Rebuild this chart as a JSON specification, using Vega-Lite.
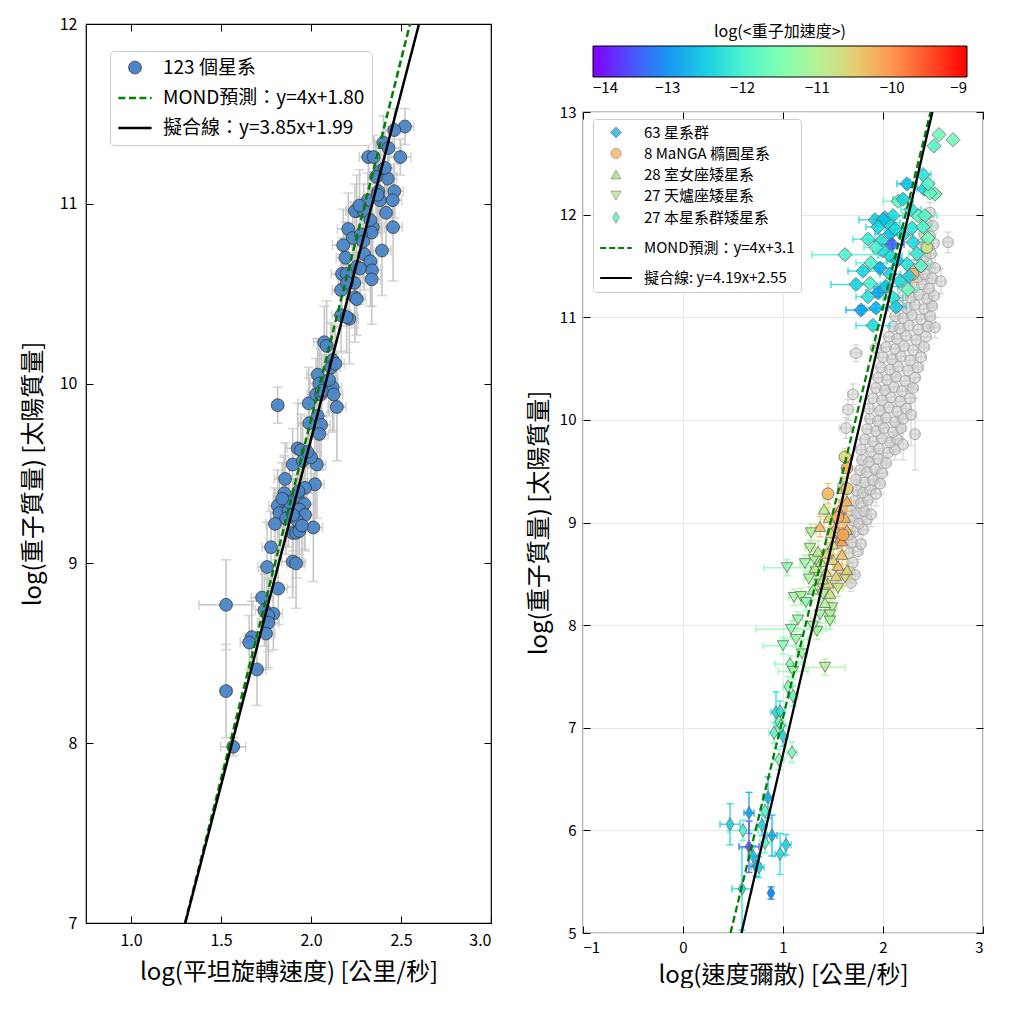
{
  "$schema": "https://vega.github.io/schema/vega-lite/v6.json",
  "background": "white",
  "padding": {"left": 20, "top": 15, "right": 0, "bottom": 0},
  "spacing": 33,
  "resolve": {
    "scale": {"shape": "independent", "color": "independent", "size": "independent", "fill": "independent", "stroke": "independent", "strokeDash": "independent", "strokeWidth": "independent"},
    "legend": {"shape": "independent", "color": "independent", "size": "independent", "fill": "independent", "stroke": "independent", "strokeDash": "independent", "strokeWidth": "independent"}
  },
  "config": {
    "font": "Noto Sans CJK TC",
    "view": {"stroke": "black", "strokeWidth": 1.2},
    "axis": {"domain": false, "grid": false, "tickSize": -7, "tickColor": "black", "tickWidth": 1, "labelColor": "black", "titleColor": "black", "titleFontWeight": "normal", "titleFontSize": 24, "labelFontSize": 16, "labelPadding": 16},
    "legend": {"labelColor": "black", "titleColor": "black"}
  },
  "datasets": {
    "L": [
      {"x":2.522,"y":11.43,"ex":0.05,"ey":0.1},{"x":2.463,"y":11.41,"ex":0.06,"ey":0.12},{"x":2.402,"y":11.34,"ex":0.05,"ey":0.15},{"x":2.43,"y":11.31,"ex":0.07,"ey":0.12},{"x":2.496,"y":11.26,"ex":0.06,"ey":0.1},
      {"x":2.318,"y":11.26,"ex":0.05,"ey":0.15},{"x":2.348,"y":11.26,"ex":0.04,"ey":0.12},{"x":2.383,"y":11.18,"ex":0.06,"ey":0.15},{"x":2.426,"y":11.14,"ex":0.05,"ey":0.12},{"x":2.361,"y":11.15,"ex":0.04,"ey":0.2},
      {"x":2.463,"y":11.07,"ex":0.05,"ey":0.15},{"x":2.374,"y":11.07,"ex":0.05,"ey":0.2},{"x":2.383,"y":11.02,"ex":0.06,"ey":0.18},{"x":2.454,"y":11.02,"ex":0.05,"ey":0.15},{"x":2.315,"y":11.02,"ex":0.05,"ey":0.15},
      {"x":2.254,"y":10.96,"ex":0.06,"ey":0.2},{"x":2.244,"y":10.96,"ex":0.05,"ey":0.15},{"x":2.417,"y":10.95,"ex":0.05,"ey":0.2},{"x":2.293,"y":10.96,"ex":0.04,"ey":0.15},{"x":2.207,"y":10.86,"ex":0.06,"ey":0.2},
      {"x":2.343,"y":10.87,"ex":0.05,"ey":0.2},{"x":2.337,"y":10.84,"ex":0.05,"ey":0.25},{"x":2.456,"y":10.87,"ex":0.05,"ey":0.3},{"x":2.232,"y":10.81,"ex":0.05,"ey":0.2},{"x":2.278,"y":10.83,"ex":0.05,"ey":0.15},
      {"x":2.179,"y":10.77,"ex":0.06,"ey":0.2},{"x":2.394,"y":10.74,"ex":0.05,"ey":0.25},{"x":2.191,"y":10.7,"ex":0.05,"ey":0.2},{"x":2.296,"y":10.72,"ex":0.05,"ey":0.2},{"x":2.33,"y":10.68,"ex":0.04,"ey":0.25},
      {"x":2.339,"y":10.63,"ex":0.05,"ey":0.2},{"x":2.337,"y":10.58,"ex":0.05,"ey":0.25},{"x":2.254,"y":10.65,"ex":0.05,"ey":0.2},{"x":2.272,"y":10.64,"ex":0.05,"ey":0.2},{"x":2.172,"y":10.61,"ex":0.06,"ey":0.2},
      {"x":2.198,"y":10.61,"ex":0.05,"ey":0.2},{"x":2.241,"y":10.56,"ex":0.05,"ey":0.25},{"x":2.167,"y":10.52,"ex":0.05,"ey":0.2},{"x":2.244,"y":10.48,"ex":0.05,"ey":0.25},{"x":2.254,"y":10.47,"ex":0.05,"ey":0.2},
      {"x":2.167,"y":10.38,"ex":0.05,"ey":0.2},{"x":2.213,"y":10.36,"ex":0.05,"ey":0.25},{"x":2.198,"y":10.37,"ex":0.06,"ey":0.2},{"x":2.074,"y":10.23,"ex":0.06,"ey":0.2},{"x":2.087,"y":10.21,"ex":0.05,"ey":0.25},
      {"x":2.12,"y":10.13,"ex":0.05,"ey":0.2},{"x":2.111,"y":10.09,"ex":0.05,"ey":0.25},{"x":2.135,"y":10.11,"ex":0.05,"ey":0.2},{"x":2.037,"y":10.05,"ex":0.06,"ey":0.2},{"x":2.046,"y":10.0,"ex":0.05,"ey":0.25},
      {"x":2.12,"y":9.98,"ex":0.05,"ey":0.25},{"x":2.126,"y":9.94,"ex":0.05,"ey":0.2},{"x":1.987,"y":9.89,"ex":0.06,"ey":0.2},{"x":2.028,"y":9.94,"ex":0.05,"ey":0.2},{"x":2.056,"y":9.94,"ex":0.05,"ey":0.25},
      {"x":2.144,"y":9.87,"ex":0.05,"ey":0.3},{"x":1.815,"y":9.88,"ex":0.03,"ey":0.1},{"x":1.99,"y":9.78,"ex":0.06,"ey":0.25},{"x":2.037,"y":9.82,"ex":0.05,"ey":0.2},{"x":2.056,"y":9.77,"ex":0.05,"ey":0.25},
      {"x":2.046,"y":9.72,"ex":0.05,"ey":0.2},{"x":1.926,"y":9.64,"ex":0.06,"ey":0.25},{"x":1.944,"y":9.63,"ex":0.05,"ey":0.2},{"x":1.898,"y":9.55,"ex":0.05,"ey":0.2},{"x":2.033,"y":9.55,"ex":0.05,"ey":0.3},
      {"x":1.954,"y":9.57,"ex":0.05,"ey":0.2},{"x":1.856,"y":9.47,"ex":0.06,"ey":0.2},{"x":2.022,"y":9.44,"ex":0.05,"ey":0.25},{"x":1.967,"y":9.42,"ex":0.05,"ey":0.2},{"x":1.852,"y":9.39,"ex":0.06,"ey":0.2},
      {"x":1.852,"y":9.35,"ex":0.05,"ey":0.25},{"x":1.926,"y":9.37,"ex":0.05,"ey":0.2},{"x":1.815,"y":9.32,"ex":0.05,"ey":0.2},{"x":1.963,"y":9.33,"ex":0.06,"ey":0.25},{"x":1.824,"y":9.28,"ex":0.05,"ey":0.2},
      {"x":1.874,"y":9.29,"ex":0.05,"ey":0.2},{"x":1.935,"y":9.3,"ex":0.05,"ey":0.25},{"x":1.967,"y":9.27,"ex":0.05,"ey":0.2},{"x":1.861,"y":9.25,"ex":0.06,"ey":0.2},{"x":1.922,"y":9.24,"ex":0.05,"ey":0.25},
      {"x":1.898,"y":9.17,"ex":0.05,"ey":0.3},{"x":1.917,"y":9.17,"ex":0.05,"ey":0.25},{"x":1.935,"y":9.18,"ex":0.06,"ey":0.2},{"x":2.013,"y":9.2,"ex":0.05,"ey":0.3},{"x":1.778,"y":9.09,"ex":0.05,"ey":0.2},
      {"x":1.756,"y":8.98,"ex":0.05,"ey":0.25},{"x":1.898,"y":9.01,"ex":0.06,"ey":0.2},{"x":1.917,"y":9.0,"ex":0.05,"ey":0.25},{"x":1.818,"y":8.86,"ex":0.05,"ey":0.2},{"x":1.728,"y":8.81,"ex":0.06,"ey":0.15},
      {"x":1.528,"y":8.77,"ex":0.15,"ey":0.25},{"x":1.741,"y":8.74,"ex":0.05,"ey":0.2},{"x":1.791,"y":8.72,"ex":0.05,"ey":0.2},{"x":1.763,"y":8.71,"ex":0.05,"ey":0.2},{"x":1.763,"y":8.67,"ex":0.06,"ey":0.25},
      {"x":1.75,"y":8.61,"ex":0.05,"ey":0.2},{"x":1.671,"y":8.59,"ex":0.04,"ey":0.2},{"x":1.657,"y":8.56,"ex":0.05,"ey":0.15},{"x":1.7,"y":8.41,"ex":0.05,"ey":0.2},{"x":1.528,"y":8.29,"ex":0.03,"ey":0.26},
      {"x":1.568,"y":7.98,"ex":0.07,"ey":0.05},{"x":1.88,"y":9.34,"ex":0.05,"ey":0.2},{"x":1.9,"y":9.27,"ex":0.05,"ey":0.2},{"x":1.84,"y":9.36,"ex":0.05,"ey":0.2},{"x":1.95,"y":9.21,"ex":0.05,"ey":0.2},
      {"x":2.0,"y":9.59,"ex":0.05,"ey":0.2},{"x":1.98,"y":9.62,"ex":0.05,"ey":0.2},{"x":2.1,"y":10.02,"ex":0.05,"ey":0.2},{"x":2.06,"y":9.96,"ex":0.05,"ey":0.2},{"x":2.2,"y":10.56,"ex":0.05,"ey":0.2},
      {"x":2.33,"y":10.91,"ex":0.05,"ey":0.2},{"x":2.37,"y":11.05,"ex":0.05,"ey":0.2},{"x":2.29,"y":10.79,"ex":0.05,"ey":0.2},{"x":2.41,"y":11.2,"ex":0.05,"ey":0.2},{"x":1.93,"y":9.4,"ex":0.05,"ey":0.2},
      {"x":1.8,"y":9.22,"ex":0.05,"ey":0.2},{"x":2.27,"y":10.99,"ex":0.05,"ey":0.2}
    ],
    "RG": [
      {"x":1.68,"y":8.41,"ex":0.03,"ey":0.08},{"x":1.66,"y":8.52,"ex":0.04,"ey":0.1},{"x":1.72,"y":8.49,"ex":0.03,"ey":0.08},{"x":1.7,"y":8.61,"ex":0.04,"ey":0.1},{"x":1.66,"y":8.7,"ex":0.03,"ey":0.1},
      {"x":1.75,"y":8.72,"ex":0.04,"ey":0.08},{"x":1.69,"y":8.81,"ex":0.03,"ey":0.1},{"x":1.78,"y":8.79,"ex":0.04,"ey":0.1},{"x":1.72,"y":8.91,"ex":0.03,"ey":0.1},{"x":1.66,"y":8.88,"ex":0.05,"ey":0.12},
      {"x":1.8,"y":8.93,"ex":0.04,"ey":0.1},{"x":1.7,"y":9.02,"ex":0.04,"ey":0.1},{"x":1.76,"y":8.99,"ex":0.03,"ey":0.08},{"x":1.84,"y":9.03,"ex":0.04,"ey":0.1},{"x":1.68,"y":9.12,"ex":0.04,"ey":0.1},
      {"x":1.74,"y":9.09,"ex":0.03,"ey":0.1},{"x":1.81,"y":9.11,"ex":0.04,"ey":0.1},{"x":1.88,"y":9.08,"ex":0.05,"ey":0.12},{"x":1.71,"y":9.21,"ex":0.04,"ey":0.1},{"x":1.78,"y":9.19,"ex":0.03,"ey":0.08},
      {"x":1.85,"y":9.22,"ex":0.04,"ey":0.1},{"x":1.74,"y":9.31,"ex":0.04,"ey":0.1},{"x":1.8,"y":9.29,"ex":0.03,"ey":0.1},{"x":1.87,"y":9.32,"ex":0.04,"ey":0.1},{"x":1.93,"y":9.28,"ex":0.05,"ey":0.12},
      {"x":1.73,"y":9.42,"ex":0.03,"ey":0.1},{"x":1.82,"y":9.39,"ex":0.04,"ey":0.1},{"x":1.9,"y":9.41,"ex":0.04,"ey":0.08},{"x":1.97,"y":9.38,"ex":0.05,"ey":0.1},{"x":1.77,"y":9.51,"ex":0.04,"ey":0.1},
      {"x":1.84,"y":9.49,"ex":0.03,"ey":0.1},{"x":1.92,"y":9.52,"ex":0.04,"ey":0.1},{"x":1.99,"y":9.48,"ex":0.05,"ey":0.12},{"x":1.79,"y":9.61,"ex":0.04,"ey":0.1},{"x":1.86,"y":9.59,"ex":0.03,"ey":0.1},
      {"x":1.95,"y":9.62,"ex":0.04,"ey":0.08},{"x":2.03,"y":9.58,"ex":0.05,"ey":0.1},{"x":1.78,"y":9.71,"ex":0.04,"ey":0.1},{"x":1.88,"y":9.69,"ex":0.03,"ey":0.1},{"x":1.96,"y":9.72,"ex":0.04,"ey":0.1},
      {"x":2.05,"y":9.68,"ex":0.05,"ey":0.12},{"x":2.12,"y":9.71,"ex":0.05,"ey":0.1},{"x":1.82,"y":9.81,"ex":0.04,"ey":0.1},{"x":1.9,"y":9.79,"ex":0.03,"ey":0.1},{"x":1.99,"y":9.82,"ex":0.04,"ey":0.1},
      {"x":2.07,"y":9.78,"ex":0.04,"ey":0.1},{"x":2.14,"y":9.81,"ex":0.05,"ey":0.12},{"x":1.84,"y":9.91,"ex":0.04,"ey":0.1},{"x":1.93,"y":9.89,"ex":0.03,"ey":0.1},{"x":2.01,"y":9.92,"ex":0.04,"ey":0.08},
      {"x":2.1,"y":9.88,"ex":0.04,"ey":0.1},{"x":2.18,"y":9.92,"ex":0.05,"ey":0.1},{"x":1.87,"y":10.01,"ex":0.04,"ey":0.1},{"x":1.95,"y":9.99,"ex":0.03,"ey":0.1},{"x":2.03,"y":10.02,"ex":0.04,"ey":0.1},
      {"x":2.12,"y":9.98,"ex":0.04,"ey":0.1},{"x":2.2,"y":10.01,"ex":0.05,"ey":0.12},{"x":1.86,"y":10.11,"ex":0.04,"ey":0.1},{"x":1.97,"y":10.09,"ex":0.03,"ey":0.1},{"x":2.06,"y":10.12,"ex":0.04,"ey":0.1},
      {"x":2.14,"y":10.08,"ex":0.04,"ey":0.1},{"x":2.23,"y":10.11,"ex":0.05,"ey":0.1},{"x":1.9,"y":10.21,"ex":0.04,"ey":0.1},{"x":1.99,"y":10.19,"ex":0.03,"ey":0.1},{"x":2.08,"y":10.22,"ex":0.04,"ey":0.08},
      {"x":2.17,"y":10.18,"ex":0.04,"ey":0.1},{"x":2.27,"y":10.21,"ex":0.05,"ey":0.12},{"x":1.93,"y":10.31,"ex":0.04,"ey":0.1},{"x":2.02,"y":10.29,"ex":0.03,"ey":0.1},{"x":2.11,"y":10.32,"ex":0.04,"ey":0.1},
      {"x":2.19,"y":10.28,"ex":0.04,"ey":0.1},{"x":2.3,"y":10.31,"ex":0.05,"ey":0.1},{"x":1.95,"y":10.41,"ex":0.04,"ey":0.1},{"x":2.04,"y":10.39,"ex":0.03,"ey":0.1},{"x":2.13,"y":10.42,"ex":0.04,"ey":0.1},
      {"x":2.22,"y":10.38,"ex":0.04,"ey":0.1},{"x":2.32,"y":10.41,"ex":0.05,"ey":0.12},{"x":1.98,"y":10.51,"ex":0.04,"ey":0.1},{"x":2.07,"y":10.49,"ex":0.03,"ey":0.1},{"x":2.15,"y":10.52,"ex":0.04,"ey":0.08},
      {"x":2.25,"y":10.48,"ex":0.04,"ey":0.1},{"x":2.35,"y":10.51,"ex":0.05,"ey":0.1},{"x":2.0,"y":10.61,"ex":0.04,"ey":0.1},{"x":2.09,"y":10.59,"ex":0.03,"ey":0.1},{"x":2.18,"y":10.62,"ex":0.04,"ey":0.1},
      {"x":2.27,"y":10.58,"ex":0.04,"ey":0.1},{"x":2.38,"y":10.61,"ex":0.05,"ey":0.12},{"x":2.03,"y":10.71,"ex":0.04,"ey":0.1},{"x":2.12,"y":10.69,"ex":0.03,"ey":0.1},{"x":2.21,"y":10.72,"ex":0.04,"ey":0.1},
      {"x":2.3,"y":10.68,"ex":0.04,"ey":0.1},{"x":2.41,"y":10.71,"ex":0.05,"ey":0.1},{"x":2.06,"y":10.81,"ex":0.04,"ey":0.1},{"x":2.14,"y":10.79,"ex":0.03,"ey":0.1},{"x":2.23,"y":10.82,"ex":0.04,"ey":0.08},
      {"x":2.33,"y":10.78,"ex":0.04,"ey":0.1},{"x":2.43,"y":10.81,"ex":0.05,"ey":0.12},{"x":2.1,"y":10.91,"ex":0.04,"ey":0.1},{"x":2.17,"y":10.89,"ex":0.03,"ey":0.1},{"x":2.26,"y":10.92,"ex":0.04,"ey":0.1},
      {"x":2.35,"y":10.88,"ex":0.04,"ey":0.1},{"x":2.45,"y":10.91,"ex":0.05,"ey":0.1},{"x":2.12,"y":11.01,"ex":0.04,"ey":0.1},{"x":2.2,"y":10.99,"ex":0.03,"ey":0.1},{"x":2.29,"y":11.02,"ex":0.04,"ey":0.1},
      {"x":2.38,"y":10.98,"ex":0.04,"ey":0.1},{"x":2.47,"y":11.01,"ex":0.05,"ey":0.12},{"x":2.16,"y":11.11,"ex":0.04,"ey":0.1},{"x":2.24,"y":11.09,"ex":0.03,"ey":0.1},{"x":2.32,"y":11.12,"ex":0.04,"ey":0.08},
      {"x":2.41,"y":11.08,"ex":0.04,"ey":0.1},{"x":2.49,"y":11.11,"ex":0.05,"ey":0.1},{"x":2.2,"y":11.21,"ex":0.04,"ey":0.1},{"x":2.28,"y":11.19,"ex":0.03,"ey":0.1},{"x":2.36,"y":11.22,"ex":0.04,"ey":0.1},
      {"x":2.44,"y":11.18,"ex":0.04,"ey":0.1},{"x":2.51,"y":11.21,"ex":0.05,"ey":0.12},{"x":2.24,"y":11.31,"ex":0.04,"ey":0.1},{"x":2.31,"y":11.29,"ex":0.03,"ey":0.1},{"x":2.39,"y":11.32,"ex":0.04,"ey":0.1},
      {"x":2.46,"y":11.28,"ex":0.04,"ey":0.1},{"x":2.28,"y":11.41,"ex":0.04,"ey":0.1},{"x":2.35,"y":11.39,"ex":0.03,"ey":0.1},{"x":2.42,"y":11.42,"ex":0.04,"ey":0.1},{"x":2.49,"y":11.38,"ex":0.05,"ey":0.1},
      {"x":2.31,"y":11.51,"ex":0.04,"ey":0.1},{"x":2.38,"y":11.49,"ex":0.03,"ey":0.1},{"x":2.45,"y":11.52,"ex":0.04,"ey":0.1},{"x":2.52,"y":11.48,"ex":0.05,"ey":0.12},{"x":2.35,"y":11.61,"ex":0.04,"ey":0.1},
      {"x":2.42,"y":11.59,"ex":0.03,"ey":0.1},{"x":2.48,"y":11.62,"ex":0.04,"ey":0.1},{"x":2.38,"y":11.71,"ex":0.04,"ey":0.1},{"x":2.45,"y":11.69,"ex":0.03,"ey":0.1},{"x":2.51,"y":11.72,"ex":0.04,"ey":0.1},
      {"x":2.41,"y":11.81,"ex":0.04,"ey":0.1},{"x":2.47,"y":11.79,"ex":0.03,"ey":0.1},{"x":2.44,"y":11.91,"ex":0.04,"ey":0.1},{"x":2.5,"y":11.89,"ex":0.03,"ey":0.1},{"x":2.47,"y":12.02,"ex":0.04,"ey":0.1},
      {"x":1.73,"y":10.65,"ex":0.06,"ey":0.08},{"x":1.7,"y":10.25,"ex":0.05,"ey":0.1},{"x":1.63,"y":9.92,"ex":0.07,"ey":0.1},{"x":2.2,"y":9.76,"ex":0.04,"ey":0.15},{"x":2.32,"y":9.86,"ex":0.04,"ey":0.35},
      {"x":2.52,"y":10.9,"ex":0.04,"ey":0.1},{"x":2.65,"y":11.73,"ex":0.04,"ey":0.1},{"x":1.6,"y":9.35,"ex":0.05,"ey":0.1},{"x":1.65,"y":10.1,"ex":0.05,"ey":0.1},{"x":1.58,"y":9.1,"ex":0.04,"ey":0.1},
      {"x":1.93,"y":10.7,"ex":0.06,"ey":0.1},{"x":2.58,"y":11.35,"ex":0.04,"ey":0.12},{"x":2.28,"y":10.05,"ex":0.05,"ey":0.3}
    ],
    "RC": [
      {"cat":"63 星系群","x":2.56,"y":12.78,"ex":0.02,"ey":0.03,"acc":-11.6},{"cat":"63 星系群","x":2.7,"y":12.73,"ex":0.02,"ey":0.03,"acc":-11.6},{"cat":"63 星系群","x":2.51,"y":12.67,"ex":0.02,"ey":0.03,"acc":-11.9},
      {"cat":"63 星系群","x":2.4,"y":12.39,"ex":0.08,"ey":0.04,"acc":-12.2},{"cat":"63 星系群","x":2.24,"y":12.3,"ex":0.1,"ey":0.04,"acc":-12.6},{"cat":"63 星系群","x":2.41,"y":12.25,"ex":0.07,"ey":0.04,"acc":-12.4},
      {"cat":"63 星系群","x":2.52,"y":12.2,"ex":0.05,"ey":0.04,"acc":-11.7},{"cat":"63 星系群","x":2.47,"y":12.21,"ex":0.05,"ey":0.04,"acc":-11.8},{"cat":"63 星系群","x":2.15,"y":12.13,"ex":0.15,"ey":0.04,"acc":-11.8},
      {"cat":"63 星系群","x":1.92,"y":11.95,"ex":0.16,"ey":0.04,"acc":-12.5},{"cat":"63 星系群","x":2.02,"y":11.97,"ex":0.1,"ey":0.04,"acc":-12.5},{"cat":"63 星系群","x":2.1,"y":11.99,"ex":0.1,"ey":0.04,"acc":-12.3},
      {"cat":"63 星系群","x":2.05,"y":11.92,"ex":0.12,"ey":0.04,"acc":-12.4},{"cat":"63 星系群","x":2.35,"y":11.99,"ex":0.1,"ey":0.04,"acc":-11.9},{"cat":"63 星系群","x":2.42,"y":11.99,"ex":0.12,"ey":0.04,"acc":-11.9},
      {"cat":"63 星系群","x":2.29,"y":11.87,"ex":0.1,"ey":0.04,"acc":-12.2},{"cat":"63 星系群","x":2.07,"y":11.81,"ex":0.15,"ey":0.04,"acc":-12.6},{"cat":"63 星系群","x":1.85,"y":11.76,"ex":0.15,"ey":0.04,"acc":-12.1},
      {"cat":"63 星系群","x":1.98,"y":11.74,"ex":0.12,"ey":0.04,"acc":-12.2},{"cat":"63 星系群","x":2.09,"y":11.71,"ex":0.12,"ey":0.04,"acc":-13.4},{"cat":"63 星系群","x":2.3,"y":11.73,"ex":0.1,"ey":0.04,"acc":-12.3},
      {"cat":"63 星系群","x":2.45,"y":11.77,"ex":0.05,"ey":0.04,"acc":-11.6},{"cat":"63 星系群","x":1.62,"y":11.61,"ex":0.33,"ey":0.04,"acc":-12.0},{"cat":"63 星系群","x":1.88,"y":11.53,"ex":0.15,"ey":0.04,"acc":-12.0},
      {"cat":"63 星系群","x":2.07,"y":11.6,"ex":0.12,"ey":0.04,"acc":-12.3},{"cat":"63 星系群","x":2.24,"y":11.52,"ex":0.1,"ey":0.04,"acc":-12.2},{"cat":"63 星系群","x":1.97,"y":11.48,"ex":0.12,"ey":0.04,"acc":-12.8},
      {"cat":"63 星系群","x":2.17,"y":11.35,"ex":0.1,"ey":0.04,"acc":-12.3},{"cat":"63 星系群","x":2.07,"y":11.42,"ex":0.1,"ey":0.04,"acc":-12.5},{"cat":"63 星系群","x":1.73,"y":11.32,"ex":0.25,"ey":0.04,"acc":-12.4},
      {"cat":"63 星系群","x":1.87,"y":11.33,"ex":0.15,"ey":0.04,"acc":-12.0},{"cat":"63 星系群","x":2.03,"y":11.3,"ex":0.12,"ey":0.04,"acc":-12.6},{"cat":"63 星系群","x":1.95,"y":11.24,"ex":0.12,"ey":0.04,"acc":-12.9},
      {"cat":"63 星系群","x":2.25,"y":11.27,"ex":0.1,"ey":0.04,"acc":-11.7},{"cat":"63 星系群","x":2.1,"y":11.19,"ex":0.1,"ey":0.04,"acc":-12.2},{"cat":"63 星系群","x":1.78,"y":11.07,"ex":0.15,"ey":0.04,"acc":-12.9},
      {"cat":"63 星系群","x":1.93,"y":11.09,"ex":0.12,"ey":0.04,"acc":-12.7},{"cat":"63 星系群","x":1.9,"y":10.92,"ex":0.17,"ey":0.04,"acc":-12.3},{"cat":"63 星系群","x":2.0,"y":11.95,"ex":0.1,"ey":0.04,"acc":-12.6},
      {"cat":"63 星系群","x":1.95,"y":11.88,"ex":0.12,"ey":0.04,"acc":-12.4},{"cat":"63 星系群","x":2.12,"y":11.86,"ex":0.1,"ey":0.04,"acc":-12.4},{"cat":"63 星系群","x":2.2,"y":11.8,"ex":0.1,"ey":0.04,"acc":-12.3},
      {"cat":"63 星系群","x":2.34,"y":11.62,"ex":0.08,"ey":0.04,"acc":-12.1},{"cat":"63 星系群","x":2.14,"y":11.55,"ex":0.1,"ey":0.04,"acc":-12.6},{"cat":"63 星系群","x":2.0,"y":11.65,"ex":0.1,"ey":0.04,"acc":-12.3},
      {"cat":"63 星系群","x":1.8,"y":11.45,"ex":0.15,"ey":0.04,"acc":-12.4},{"cat":"63 星系群","x":2.38,"y":11.5,"ex":0.08,"ey":0.04,"acc":-11.8},{"cat":"63 星系群","x":2.4,"y":11.88,"ex":0.08,"ey":0.04,"acc":-12.0},
      {"cat":"63 星系群","x":2.28,"y":12.05,"ex":0.1,"ey":0.04,"acc":-12.2},{"cat":"63 星系群","x":2.45,"y":12.3,"ex":0.06,"ey":0.04,"acc":-11.9},{"cat":"63 星系群","x":2.2,"y":12.15,"ex":0.1,"ey":0.04,"acc":-12.4},
      {"cat":"63 星系群","x":1.93,"y":11.68,"ex":0.12,"ey":0.04,"acc":-12.0},{"cat":"63 星系群","x":2.26,"y":11.4,"ex":0.08,"ey":0.04,"acc":-12.5},{"cat":"63 星系群","x":2.13,"y":11.1,"ex":0.1,"ey":0.04,"acc":-12.5},
      {"cat":"63 星系群","x":1.85,"y":11.2,"ex":0.12,"ey":0.04,"acc":-12.2},
      {"cat":"8 MaNGA 橢圓星系","x":2.44,"y":11.68,"ex":0.03,"ey":0.06,"acc":-10.8},{"cat":"8 MaNGA 橢圓星系","x":2.3,"y":11.42,"ex":0.03,"ey":0.08,"acc":-10.3},{"cat":"8 MaNGA 橢圓星系","x":1.62,"y":9.64,"ex":0.03,"ey":0.08,"acc":-10.6},
      {"cat":"8 MaNGA 橢圓星系","x":1.45,"y":9.28,"ex":0.03,"ey":0.1,"acc":-10.3},{"cat":"8 MaNGA 橢圓星系","x":1.64,"y":9.33,"ex":0.03,"ey":0.1,"acc":-10.5},{"cat":"8 MaNGA 橢圓星系","x":1.64,"y":9.53,"ex":0.03,"ey":0.1,"acc":-10.2},
      {"cat":"8 MaNGA 橢圓星系","x":1.55,"y":9.05,"ex":0.03,"ey":0.1,"acc":-10.2},{"cat":"8 MaNGA 橢圓星系","x":1.6,"y":8.88,"ex":0.03,"ey":0.1,"acc":-10.1},
      {"cat":"28 室女座矮星系","x":1.41,"y":9.13,"ex":0.04,"ey":0.1,"acc":-10.9},{"cat":"28 室女座矮星系","x":1.64,"y":9.21,"ex":0.04,"ey":0.1,"acc":-10.2},{"cat":"28 室女座矮星系","x":1.37,"y":8.96,"ex":0.04,"ey":0.1,"acc":-10.3},
      {"cat":"28 室女座矮星系","x":1.46,"y":9.05,"ex":0.04,"ey":0.1,"acc":-10.6},{"cat":"28 室女座矮星系","x":1.62,"y":9.05,"ex":0.04,"ey":0.1,"acc":-10.2},{"cat":"28 室女座矮星系","x":1.64,"y":8.93,"ex":0.04,"ey":0.1,"acc":-10.3},
      {"cat":"28 室女座矮星系","x":1.57,"y":8.85,"ex":0.04,"ey":0.1,"acc":-10.0},{"cat":"28 室女座矮星系","x":1.59,"y":8.82,"ex":0.04,"ey":0.1,"acc":-10.1},{"cat":"28 室女座矮星系","x":1.5,"y":8.79,"ex":0.04,"ey":0.1,"acc":-10.7},
      {"cat":"28 室女座矮星系","x":1.59,"y":8.69,"ex":0.04,"ey":0.1,"acc":-10.4},{"cat":"28 室女座矮星系","x":1.35,"y":8.72,"ex":0.04,"ey":0.1,"acc":-10.9},{"cat":"28 室女座矮星系","x":1.5,"y":8.64,"ex":0.04,"ey":0.1,"acc":-10.5},
      {"cat":"28 室女座矮星系","x":1.64,"y":8.54,"ex":0.04,"ey":0.1,"acc":-10.5},{"cat":"28 室女座矮星系","x":1.43,"y":8.52,"ex":0.04,"ey":0.1,"acc":-10.6},{"cat":"28 室女座矮星系","x":1.32,"y":8.56,"ex":0.04,"ey":0.1,"acc":-11.0},
      {"cat":"28 室女座矮星系","x":1.45,"y":8.41,"ex":0.04,"ey":0.1,"acc":-10.6},{"cat":"28 室女座矮星系","x":1.47,"y":8.31,"ex":0.04,"ey":0.1,"acc":-10.8},{"cat":"28 室女座矮星系","x":1.4,"y":8.45,"ex":0.04,"ey":0.1,"acc":-10.9},
      {"cat":"28 室女座矮星系","x":1.52,"y":8.95,"ex":0.04,"ey":0.1,"acc":-10.4},{"cat":"28 室女座矮星系","x":1.56,"y":9.12,"ex":0.04,"ey":0.1,"acc":-10.1},{"cat":"28 室女座矮星系","x":1.44,"y":8.7,"ex":0.04,"ey":0.1,"acc":-10.5},
      {"cat":"28 室女座矮星系","x":1.38,"y":8.62,"ex":0.04,"ey":0.1,"acc":-10.8},{"cat":"28 室女座矮星系","x":1.55,"y":8.58,"ex":0.04,"ey":0.1,"acc":-10.3},{"cat":"28 室女座矮星系","x":1.48,"y":8.9,"ex":0.04,"ey":0.1,"acc":-10.6},
      {"cat":"28 室女座矮星系","x":1.6,"y":9.33,"ex":0.04,"ey":0.1,"acc":-10.4},{"cat":"28 室女座矮星系","x":1.3,"y":8.35,"ex":0.04,"ey":0.1,"acc":-11.1},{"cat":"28 室女座矮星系","x":1.42,"y":8.22,"ex":0.04,"ey":0.1,"acc":-11.0},
      {"cat":"28 室女座矮星系","x":1.53,"y":8.48,"ex":0.04,"ey":0.1,"acc":-10.5},
      {"cat":"27 天爐座矮星系","x":1.27,"y":8.75,"ex":0.05,"ey":0.08,"acc":-11.0},{"cat":"27 天爐座矮星系","x":1.31,"y":8.64,"ex":0.05,"ey":0.08,"acc":-11.1},{"cat":"27 天爐座矮星系","x":1.04,"y":8.56,"ex":0.23,"ey":0.08,"acc":-11.4},
      {"cat":"27 天爐座矮星系","x":1.33,"y":8.52,"ex":0.05,"ey":0.08,"acc":-11.0},{"cat":"27 天爐座矮星系","x":1.37,"y":8.4,"ex":0.05,"ey":0.08,"acc":-10.9},{"cat":"27 天爐座矮星系","x":1.62,"y":8.46,"ex":0.05,"ey":0.08,"acc":-10.6},
      {"cat":"27 天爐座矮星系","x":1.11,"y":8.27,"ex":0.05,"ey":0.08,"acc":-11.2},{"cat":"27 天爐座矮星系","x":1.18,"y":8.28,"ex":0.05,"ey":0.08,"acc":-11.1},{"cat":"27 天爐座矮星系","x":1.23,"y":8.22,"ex":0.05,"ey":0.08,"acc":-11.5},
      {"cat":"27 天爐座矮星系","x":1.49,"y":8.17,"ex":0.05,"ey":0.08,"acc":-11.0},{"cat":"27 天爐座矮星系","x":1.47,"y":8.1,"ex":0.05,"ey":0.08,"acc":-11.1},{"cat":"27 天爐座矮星系","x":1.47,"y":8.04,"ex":0.05,"ey":0.08,"acc":-11.2},
      {"cat":"27 天爐座矮星系","x":1.37,"y":8.1,"ex":0.05,"ey":0.08,"acc":-11.2},{"cat":"27 天爐座矮星系","x":1.08,"y":7.96,"ex":0.35,"ey":0.08,"acc":-11.4},{"cat":"27 天爐座矮星系","x":1.13,"y":7.86,"ex":0.12,"ey":0.08,"acc":-11.3},
      {"cat":"27 天爐座矮星系","x":1.34,"y":7.94,"ex":0.05,"ey":0.08,"acc":-11.2},{"cat":"27 天爐座矮星系","x":1.42,"y":7.59,"ex":0.2,"ey":0.08,"acc":-11.0},{"cat":"27 天爐座矮星系","x":1.1,"y":7.55,"ex":0.15,"ey":0.08,"acc":-11.3},
      {"cat":"27 天爐座矮星系","x":1.28,"y":8.9,"ex":0.05,"ey":0.08,"acc":-11.0},{"cat":"27 天爐座矮星系","x":1.26,"y":8.45,"ex":0.05,"ey":0.08,"acc":-11.1},{"cat":"27 天爐座矮星系","x":1.15,"y":8.05,"ex":0.05,"ey":0.08,"acc":-11.3},
      {"cat":"27 天爐座矮星系","x":1.4,"y":8.3,"ex":0.05,"ey":0.08,"acc":-11.0},{"cat":"27 天爐座矮星系","x":1.22,"y":8.6,"ex":0.05,"ey":0.08,"acc":-11.2},{"cat":"27 天爐座矮星系","x":1.0,"y":7.8,"ex":0.2,"ey":0.08,"acc":-11.5},
      {"cat":"27 天爐座矮星系","x":1.19,"y":7.72,"ex":0.05,"ey":0.08,"acc":-11.3},{"cat":"27 天爐座矮星系","x":1.3,"y":7.99,"ex":0.05,"ey":0.08,"acc":-11.2},{"cat":"27 天爐座矮星系","x":1.55,"y":8.36,"ex":0.05,"ey":0.08,"acc":-10.8},
      {"cat":"27 本星系群矮星系","x":1.07,"y":7.62,"ex":0.15,"ey":0.08,"acc":-11.5},{"cat":"27 本星系群矮星系","x":1.1,"y":7.31,"ex":0.05,"ey":0.1,"acc":-11.8},{"cat":"27 本星系群矮星系","x":0.93,"y":7.15,"ex":0.05,"ey":0.2,"acc":-12.3},
      {"cat":"27 本星系群矮星系","x":0.97,"y":7.16,"ex":0.05,"ey":0.1,"acc":-12.2},{"cat":"27 本星系群矮星系","x":0.96,"y":7.06,"ex":0.05,"ey":0.1,"acc":-11.6},{"cat":"27 本星系群矮星系","x":1.0,"y":6.92,"ex":0.05,"ey":0.1,"acc":-12.4},
      {"cat":"27 本星系群矮星系","x":1.09,"y":6.76,"ex":0.05,"ey":0.1,"acc":-11.6},{"cat":"27 本星系群矮星系","x":0.96,"y":6.69,"ex":0.05,"ey":0.1,"acc":-11.6},{"cat":"27 本星系群矮星系","x":0.85,"y":6.32,"ex":0.05,"ey":0.2,"acc":-12.8},
      {"cat":"27 本星系群矮星系","x":0.82,"y":6.19,"ex":0.05,"ey":0.1,"acc":-11.9},{"cat":"27 本星系群矮星系","x":0.66,"y":6.17,"ex":0.05,"ey":0.2,"acc":-12.9},{"cat":"27 本星系群矮星系","x":0.47,"y":6.06,"ex":0.1,"ey":0.2,"acc":-12.5},
      {"cat":"27 本星系群矮星系","x":0.6,"y":6.0,"ex":0.15,"ey":0.1,"acc":-12.0},{"cat":"27 本星系群矮星系","x":0.89,"y":5.95,"ex":0.05,"ey":0.2,"acc":-12.8},{"cat":"27 本星系群矮星系","x":0.66,"y":5.84,"ex":0.1,"ey":0.25,"acc":-13.6},
      {"cat":"27 本星系群矮星系","x":0.82,"y":5.88,"ex":0.05,"ey":0.1,"acc":-11.9},{"cat":"27 本星系群矮星系","x":1.03,"y":5.86,"ex":0.05,"ey":0.1,"acc":-12.4},{"cat":"27 本星系群矮星系","x":0.97,"y":5.77,"ex":0.05,"ey":0.2,"acc":-12.3},
      {"cat":"27 本星系群矮星系","x":0.73,"y":5.65,"ex":0.05,"ey":0.1,"acc":-12.9},{"cat":"27 本星系群矮星系","x":0.76,"y":5.64,"ex":0.05,"ey":0.1,"acc":-12.3},{"cat":"27 本星系群矮星系","x":0.59,"y":5.43,"ex":0.1,"ey":0.4,"acc":-12.4},
      {"cat":"27 本星系群矮星系","x":0.88,"y":5.39,"ex":0.02,"ey":0.06,"acc":-13.1},{"cat":"27 本星系群矮星系","x":0.7,"y":5.75,"ex":0.05,"ey":0.1,"acc":-12.6},{"cat":"27 本星系群矮星系","x":0.98,"y":7.02,"ex":0.05,"ey":0.1,"acc":-11.7},
      {"cat":"27 本星系群矮星系","x":1.05,"y":7.4,"ex":0.05,"ey":0.1,"acc":-11.5},{"cat":"27 本星系群矮星系","x":0.91,"y":6.95,"ex":0.05,"ey":0.1,"acc":-11.8},{"cat":"27 本星系群矮星系","x":0.79,"y":6.05,"ex":0.05,"ey":0.1,"acc":-12.5}
    ],
    "RKEY": [
      {"cat":"63 星系群"},{"cat":"8 MaNGA 橢圓星系"},{"cat":"28 室女座矮星系"},{"cat":"27 天爐座矮星系"},{"cat":"27 本星系群矮星系"},{"cat":"MOND預測：y=4x+3.1"},{"cat":"擬合線: y=4.19x+2.55"}
    ]
  },
  "hconcat": [
    {
      "width": 405,
      "height": 899,
      "resolve": {"axis": {"x": "independent", "y": "independent"}},
      "layer": [
        {
          "data": {"name": "L"},
          "mark": {"type": "errorbar", "color": "#c6c6c6", "thickness": 1.6, "ticks": {"size": 10, "thickness": 1.6}},
          "encoding": {
            "x": {"field": "x", "type": "quantitative", "scale": {"domain": [0.75, 3], "nice": false, "zero": false}, "axis": null},
            "xError": {"field": "ex"},
            "y": {"field": "y", "type": "quantitative", "scale": {"domain": [7, 12], "nice": false, "zero": false}, "axis": null}
          }
        },
        {
          "data": {"name": "L"},
          "mark": {"type": "errorbar", "color": "#c6c6c6", "thickness": 1.6, "ticks": {"size": 10, "thickness": 1.6}},
          "encoding": {
            "x": {"field": "x", "type": "quantitative", "axis": null},
            "y": {"field": "y", "type": "quantitative", "axis": null},
            "yError": {"field": "ey"}
          }
        },
        {
          "data": {"name": "L"},
          "mark": {"type": "point", "filled": true, "opacity": 1, "fillOpacity": 0.95},
          "encoding": {
            "x": {"field": "x", "type": "quantitative", "axis": {"orient": "bottom", "values": [1, 1.5, 2, 2.5, 3], "format": ".1f", "title": "log(平坦旋轉速度) [公里/秒]", "titlePadding": 12}},
            "y": {"field": "y", "type": "quantitative", "axis": {"orient": "left", "values": [7, 8, 9, 10, 11, 12], "format": "d", "title": "log(重子質量) [太陽質量]", "titlePadding": 14}},
            "shape": {"datum": "123 個星系", "type": "nominal", "scale": {"domain": ["123 個星系", "MOND預測：y=4x+1.80", "擬合線：y=3.85x+1.99"], "range": ["circle", "stroke", "stroke"]},
              "legend": {"orient": "none", "legendX": 24, "legendY": 27, "title": null, "fillColor": "white", "strokeColor": "#cccccc", "cornerRadius": 4, "padding": 7, "labelFontSize": 19, "labelLimit": 500, "symbolOffset": 0, "labelOffset": 10, "rowPadding": 2, "symbolOpacity": 1}},
            "fill": {"datum": "123 個星系", "type": "nominal", "scale": {"domain": ["123 個星系", "MOND預測：y=4x+1.80", "擬合線：y=3.85x+1.99"], "range": ["#4a86c8", "transparent", "transparent"]},
              "legend": {"orient": "none", "legendX": 24, "legendY": 27, "title": null, "fillColor": "white", "strokeColor": "#cccccc", "cornerRadius": 4, "padding": 7, "labelFontSize": 19, "labelLimit": 500, "symbolOffset": 0, "labelOffset": 10, "rowPadding": 2, "symbolOpacity": 1}},
            "stroke": {"datum": "123 個星系", "type": "nominal", "scale": {"domain": ["123 個星系", "MOND預測：y=4x+1.80", "擬合線：y=3.85x+1.99"], "range": ["#3a3a3a", "#008000", "#000000"]},
              "legend": {"orient": "none", "legendX": 24, "legendY": 27, "title": null, "fillColor": "white", "strokeColor": "#cccccc", "cornerRadius": 4, "padding": 7, "labelFontSize": 19, "labelLimit": 500, "symbolOffset": 0, "labelOffset": 10, "rowPadding": 2, "symbolOpacity": 1}},
            "strokeDash": {"datum": "123 個星系", "type": "nominal", "scale": {"domain": ["123 個星系", "MOND預測：y=4x+1.80", "擬合線：y=3.85x+1.99"], "range": [[1, 0], [7, 3.5], [1, 0]]},
              "legend": {"orient": "none", "legendX": 24, "legendY": 27, "title": null, "fillColor": "white", "strokeColor": "#cccccc", "cornerRadius": 4, "padding": 7, "labelFontSize": 19, "labelLimit": 500, "symbolOffset": 0, "labelOffset": 10, "rowPadding": 2, "symbolOpacity": 1}},
            "size": {"datum": "123 個星系", "type": "nominal", "scale": {"type": "ordinal", "domain": ["123 個星系", "MOND預測：y=4x+1.80", "擬合線：y=3.85x+1.99"], "range": [160, 1100, 1100]},
              "legend": {"orient": "none", "legendX": 24, "legendY": 27, "title": null, "fillColor": "white", "strokeColor": "#cccccc", "cornerRadius": 4, "padding": 7, "labelFontSize": 19, "labelLimit": 500, "symbolOffset": 0, "labelOffset": 10, "rowPadding": 2, "symbolOpacity": 1}},
            "strokeWidth": {"datum": "123 個星系", "type": "nominal", "scale": {"type": "ordinal", "domain": ["123 個星系", "MOND預測：y=4x+1.80", "擬合線：y=3.85x+1.99"], "range": [1, 2.5, 2.5]},
              "legend": {"orient": "none", "legendX": 24, "legendY": 27, "title": null, "fillColor": "white", "strokeColor": "#cccccc", "cornerRadius": 4, "padding": 7, "labelFontSize": 19, "labelLimit": 500, "symbolOffset": 0, "labelOffset": 10, "rowPadding": 2, "symbolOpacity": 1}}
          }
        },
        {
          "data": {"values": [{"x": 1.3, "y": 7}, {"x": 2.55, "y": 12}]},
          "mark": {"type": "line", "color": "#008000", "strokeDash": [7, 3.5], "strokeWidth": 2.5, "clip": true},
          "encoding": {
            "x": {"field": "x", "type": "quantitative", "axis": {"orient": "top", "labels": false, "title": null, "values": [1, 1.5, 2, 2.5, 3]}},
            "y": {"field": "y", "type": "quantitative", "axis": {"orient": "right", "labels": false, "title": null, "values": [7, 8, 9, 10, 11, 12]}}
          }
        },
        {
          "data": {"values": [{"x": 1.3013, "y": 7}, {"x": 2.6, "y": 12}]},
          "mark": {"type": "line", "color": "black", "strokeWidth": 2.5, "clip": true},
          "encoding": {
            "x": {"field": "x", "type": "quantitative", "axis": null},
            "y": {"field": "y", "type": "quantitative", "axis": null}
          }
        }
      ]
    },
    {
      "spacing": 0,
      "resolve": {
        "scale": {"shape": "independent", "color": "independent", "size": "independent", "fill": "independent", "stroke": "independent", "strokeDash": "independent", "strokeWidth": "independent"},
        "legend": {"shape": "independent", "color": "independent", "size": "independent", "fill": "independent", "stroke": "independent", "strokeDash": "independent", "strokeWidth": "independent"}
      },
      "vconcat": [
        {
          "width": 400,
          "height": 79,
          "view": {"stroke": "transparent"},
          "data": {"values": [{"acc": -14}, {"acc": -9}]},
          "mark": {"type": "point", "filled": true, "opacity": 0},
          "encoding": {
            "color": {
              "field": "acc", "type": "quantitative",
              "scale": {"domain": [-14, -13.5, -13, -12.5, -12, -11.5, -11, -10.5, -10, -9.5, -9], "range": ["#8000ff", "#4d4ffc", "#1a96f3", "#1acee3", "#4df3ce", "#80ffb4", "#b3f396", "#e6ce74", "#ff964f", "#ff4f28", "#ff0000"]},
              "legend": {"type": "gradient", "orient": "none", "legendX": 10, "legendY": 0, "padding": 0, "direction": "horizontal", "gradientLength": 374, "gradientThickness": 31, "gradientStrokeColor": "black", "gradientStrokeWidth": 1, "title": "log(<重子加速度>)", "titleAnchor": "middle", "titleFontSize": 16, "titleFontWeight": "normal", "titlePadding": 6, "labelFontSize": 15, "values": [-14, -13, -12, -11, -10, -9], "format": "d", "labelOffset": 4}
            }
          }
        },
        {
          "width": 400,
          "height": 821,
          "resolve": {"axis": {"x": "independent", "y": "independent"}},
          "layer": [
            {
              "data": {"name": "RKEY"},
              "mark": {"type": "point", "filled": true, "opacity": 0},
              "encoding": {
                "shape": {"field": "cat", "type": "nominal", "scale": {"domain": ["63 星系群", "8 MaNGA 橢圓星系", "28 室女座矮星系", "27 天爐座矮星系", "27 本星系群矮星系", "MOND預測：y=4x+3.1", "擬合線: y=4.19x+2.55"], "range": ["diamond", "circle", "triangle-up", "triangle-down", "M0,-1L0.6,0L0,1L-0.6,0Z", "stroke", "stroke"]},
                  "legend": {"orient": "none", "legendX": 10, "legendY": 7, "title": null, "fillColor": "white", "strokeColor": "#cccccc", "cornerRadius": 3, "padding": 6, "labelFontSize": 15, "labelLimit": 500, "symbolOffset": 0, "labelOffset": 11, "rowPadding": 5, "symbolOpacity": 1}},
                "fill": {"field": "cat", "type": "nominal", "scale": {"domain": ["63 星系群", "8 MaNGA 橢圓星系", "28 室女座矮星系", "27 天爐座矮星系", "27 本星系群矮星系", "MOND預測：y=4x+3.1", "擬合線: y=4.19x+2.55"], "range": ["#4cbfe8", "#fbc07c", "#b7e8a0", "#c3eea4", "#74efd0", "transparent", "transparent"]},
                  "legend": {"orient": "none", "legendX": 10, "legendY": 7, "title": null, "fillColor": "white", "strokeColor": "#cccccc", "cornerRadius": 3, "padding": 6, "labelFontSize": 15, "labelLimit": 500, "symbolOffset": 0, "labelOffset": 11, "rowPadding": 5, "symbolOpacity": 1}},
                "stroke": {"field": "cat", "type": "nominal", "scale": {"domain": ["63 星系群", "8 MaNGA 橢圓星系", "28 室女座矮星系", "27 天爐座矮星系", "27 本星系群矮星系", "MOND預測：y=4x+3.1", "擬合線: y=4.19x+2.55"], "range": ["#8a8a8a", "#9a9a9a", "#9a9a9a", "#9a9a9a", "#9a9a9a", "#008000", "#000000"]},
                  "legend": {"orient": "none", "legendX": 10, "legendY": 7, "title": null, "fillColor": "white", "strokeColor": "#cccccc", "cornerRadius": 3, "padding": 6, "labelFontSize": 15, "labelLimit": 500, "symbolOffset": 0, "labelOffset": 11, "rowPadding": 5, "symbolOpacity": 1}},
                "strokeDash": {"field": "cat", "type": "nominal", "scale": {"domain": ["63 星系群", "8 MaNGA 橢圓星系", "28 室女座矮星系", "27 天爐座矮星系", "27 本星系群矮星系", "MOND預測：y=4x+3.1", "擬合線: y=4.19x+2.55"], "range": [[1, 0], [1, 0], [1, 0], [1, 0], [1, 0], [6, 3], [1, 0]]},
                  "legend": {"orient": "none", "legendX": 10, "legendY": 7, "title": null, "fillColor": "white", "strokeColor": "#cccccc", "cornerRadius": 3, "padding": 6, "labelFontSize": 15, "labelLimit": 500, "symbolOffset": 0, "labelOffset": 11, "rowPadding": 5, "symbolOpacity": 1}},
                "size": {"field": "cat", "type": "nominal", "scale": {"type": "ordinal", "domain": ["63 星系群", "8 MaNGA 橢圓星系", "28 室女座矮星系", "27 天爐座矮星系", "27 本星系群矮星系", "MOND預測：y=4x+3.1", "擬合線: y=4.19x+2.55"], "range": [120, 100, 100, 100, 130, 1000, 1000]},
                  "legend": {"orient": "none", "legendX": 10, "legendY": 7, "title": null, "fillColor": "white", "strokeColor": "#cccccc", "cornerRadius": 3, "padding": 6, "labelFontSize": 15, "labelLimit": 500, "symbolOffset": 0, "labelOffset": 11, "rowPadding": 5, "symbolOpacity": 1}},
                "strokeWidth": {"field": "cat", "type": "nominal", "scale": {"type": "ordinal", "domain": ["63 星系群", "8 MaNGA 橢圓星系", "28 室女座矮星系", "27 天爐座矮星系", "27 本星系群矮星系", "MOND預測：y=4x+3.1", "擬合線: y=4.19x+2.55"], "range": [1, 1, 1, 1, 1, 2.2, 2.2]},
                  "legend": {"orient": "none", "legendX": 10, "legendY": 7, "title": null, "fillColor": "white", "strokeColor": "#cccccc", "cornerRadius": 3, "padding": 6, "labelFontSize": 15, "labelLimit": 500, "symbolOffset": 0, "labelOffset": 11, "rowPadding": 5, "symbolOpacity": 1}}
              }
            },
            {
              "data": {"name": "RG"},
              "mark": {"type": "errorbar", "color": "#c8c8c8", "opacity": 0.7, "thickness": 1.3, "ticks": {"size": 7, "thickness": 1.3}},
              "encoding": {
                "x": {"field": "x", "type": "quantitative", "scale": {"domain": [-1, 3], "nice": false, "zero": false}, "axis": null},
                "xError": {"field": "ex"},
                "y": {"field": "y", "type": "quantitative", "scale": {"domain": [5, 13], "nice": false, "zero": false}, "axis": null}
              }
            },
            {
              "data": {"name": "RG"},
              "mark": {"type": "errorbar", "color": "#c8c8c8", "opacity": 0.7, "thickness": 1.3, "ticks": {"size": 7, "thickness": 1.3}},
              "encoding": {
                "x": {"field": "x", "type": "quantitative", "axis": null},
                "y": {"field": "y", "type": "quantitative", "axis": null},
                "yError": {"field": "ey"}
              }
            },
            {
              "data": {"name": "RG"},
              "mark": {"type": "point", "filled": true, "size": 115, "fill": "#cccccc", "fillOpacity": 0.5, "stroke": "#aaaaaa", "strokeWidth": 1, "opacity": 1},
              "encoding": {
                "x": {"field": "x", "type": "quantitative", "axis": {"orient": "bottom", "values": [-1, 0, 1, 2, 3], "format": "d", "title": "log(速度彌散) [公里/秒]", "titlePadding": 8, "grid": true, "gridColor": "#e8e8e8", "labelFontSize": 15, "labelPadding": 14}},
                "y": {"field": "y", "type": "quantitative", "axis": {"orient": "left", "values": [5, 6, 7, 8, 9, 10, 11, 12, 13], "format": "d", "title": "log(重子質量) [太陽質量]", "titlePadding": 8, "grid": true, "gridColor": "#e8e8e8", "labelFontSize": 15, "labelPadding": 14}}
              }
            },
            {
              "data": {"name": "RC"},
              "mark": {"type": "errorbar", "opacity": 0.8, "thickness": 1.5, "ticks": {"size": 7, "thickness": 1.5}},
              "encoding": {
                "x": {"field": "x", "type": "quantitative", "axis": null},
                "xError": {"field": "ex"},
                "y": {"field": "y", "type": "quantitative", "axis": null},
                "color": {"field": "acc", "type": "quantitative", "legend": null}
              }
            },
            {
              "data": {"name": "RC"},
              "mark": {"type": "errorbar", "opacity": 0.8, "thickness": 1.5, "ticks": {"size": 7, "thickness": 1.5}},
              "encoding": {
                "x": {"field": "x", "type": "quantitative", "axis": null},
                "y": {"field": "y", "type": "quantitative", "axis": null},
                "yError": {"field": "ey"},
                "color": {"field": "acc", "type": "quantitative", "legend": null}
              }
            },
            {
              "data": {"name": "RC"},
              "transform": [{"filter": {"field": "cat", "equal": "27 本星系群矮星系"}}],
              "mark": {"type": "point", "shape": "M0,-1L0.6,0L0,1L-0.6,0Z", "size": 170, "filled": true, "stroke": "#6e6e6e", "strokeWidth": 1, "opacity": 0.85},
              "encoding": {
                "x": {"field": "x", "type": "quantitative", "axis": null},
                "y": {"field": "y", "type": "quantitative", "axis": null},
                "color": {
                  "field": "acc", "type": "quantitative",
                  "scale": {"domain": [-14, -13.5, -13, -12.5, -12, -11.5, -11, -10.5, -10, -9.5, -9], "range": ["#8000ff", "#4d4ffc", "#1a96f3", "#1acee3", "#4df3ce", "#80ffb4", "#b3f396", "#e6ce74", "#ff964f", "#ff4f28", "#ff0000"]},
                  "legend": null
                }
              }
            },
            {
              "data": {"name": "RC"},
              "transform": [{"filter": {"field": "cat", "equal": "27 天爐座矮星系"}}],
              "mark": {"type": "point", "shape": "triangle-down", "size": 130, "filled": true, "stroke": "#6e6e6e", "strokeWidth": 1, "opacity": 0.85},
              "encoding": {
                "x": {"field": "x", "type": "quantitative", "axis": null},
                "y": {"field": "y", "type": "quantitative", "axis": null},
                "color": {"field": "acc", "type": "quantitative", "legend": null}
              }
            },
            {
              "data": {"name": "RC"},
              "transform": [{"filter": {"field": "cat", "equal": "28 室女座矮星系"}}],
              "mark": {"type": "point", "shape": "triangle-up", "size": 130, "filled": true, "stroke": "#6e6e6e", "strokeWidth": 1, "opacity": 0.85},
              "encoding": {
                "x": {"field": "x", "type": "quantitative", "axis": null},
                "y": {"field": "y", "type": "quantitative", "axis": null},
                "color": {"field": "acc", "type": "quantitative", "legend": null}
              }
            },
            {
              "data": {"name": "RC"},
              "transform": [{"filter": {"field": "cat", "equal": "8 MaNGA 橢圓星系"}}],
              "mark": {"type": "point", "shape": "circle", "size": 140, "filled": true, "stroke": "#6e6e6e", "strokeWidth": 1, "opacity": 0.85},
              "encoding": {
                "x": {"field": "x", "type": "quantitative", "axis": null},
                "y": {"field": "y", "type": "quantitative", "axis": null},
                "color": {"field": "acc", "type": "quantitative", "legend": null}
              }
            },
            {
              "data": {"name": "RC"},
              "transform": [{"filter": {"field": "cat", "equal": "63 星系群"}}],
              "mark": {"type": "point", "shape": "diamond", "size": 200, "filled": true, "stroke": "#6e6e6e", "strokeWidth": 1, "opacity": 0.85},
              "encoding": {
                "x": {"field": "x", "type": "quantitative", "axis": null},
                "y": {"field": "y", "type": "quantitative", "axis": null},
                "color": {"field": "acc", "type": "quantitative", "legend": null}
              }
            },
            {
              "data": {"values": [{"x": 0.475, "y": 5}, {"x": 2.475, "y": 13}]},
              "mark": {"type": "line", "color": "#008000", "strokeDash": [7, 3.5], "strokeWidth": 2.3, "clip": true},
              "encoding": {
                "x": {"field": "x", "type": "quantitative", "axis": {"orient": "top", "labels": false, "title": null, "values": [-1, 0, 1, 2, 3], "grid": false}},
                "y": {"field": "y", "type": "quantitative", "axis": {"orient": "right", "labels": false, "title": null, "values": [5, 6, 7, 8, 9, 10, 11, 12, 13], "grid": false}}
              }
            },
            {
              "data": {"values": [{"x": 0.5847, "y": 5}, {"x": 2.494, "y": 13}]},
              "mark": {"type": "line", "color": "black", "strokeWidth": 2.3, "clip": true},
              "encoding": {
                "x": {"field": "x", "type": "quantitative", "axis": null},
                "y": {"field": "y", "type": "quantitative", "axis": null}
              }
            }
          ]
        }
      ]
    }
  ]
}
